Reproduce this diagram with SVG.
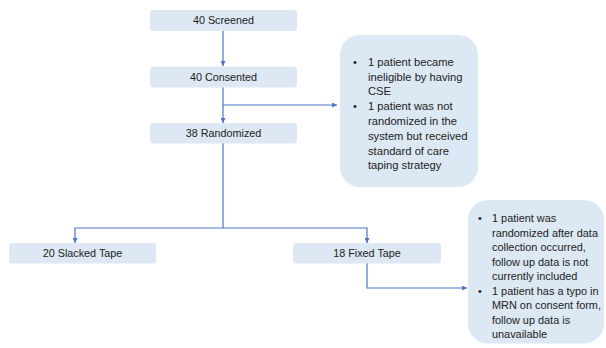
<svg xmlns="http://www.w3.org/2000/svg" width="606" height="348" viewBox="0 0 606 348">
<style>
.box{fill:#dde8f4;stroke:none}
.bub{fill:#dce8f4;stroke:none}
.bt{font-family:"Liberation Sans",Arial,sans-serif;font-size:10.8px;fill:#222;text-anchor:middle}
.tt{font-family:"Liberation Sans",Arial,sans-serif;font-size:11.2px;fill:#222}
.tt2{font-family:"Liberation Sans",Arial,sans-serif;font-size:10.9px;fill:#222}
.ln{fill:none;stroke:#4a76c6;stroke-width:1.2}
</style>
<defs>
<marker id="ah" viewBox="0 0 6 6" refX="6" refY="3" markerWidth="5" markerHeight="5" orient="auto" markerUnits="userSpaceOnUse">
<path d="M0,0 L6,3 L0,6 Z" fill="#4a76c6"/>
</marker>
</defs>
<g id="connectors">
<path class="ln" d="M223,31 V66" marker-end="url(#ah)"/>
<path class="ln" d="M223,87 V123" marker-end="url(#ah)"/>
<path class="ln" d="M223,105 H337" marker-end="url(#ah)"/>
<path class="ln" d="M223,143 V228 H75 V243" marker-end="url(#ah)"/>
<path class="ln" d="M223,228 H367 V243" marker-end="url(#ah)"/>
<path class="ln" d="M367,263 V288 H467" marker-end="url(#ah)"/>
</g>
<g id="screened"><rect class="box" x="150" y="10" width="147" height="21" rx="3"/><text class="bt" x="223.5" y="24.3">40 Screened</text></g>
<g id="consented"><rect class="box" x="150" y="66.5" width="147" height="21" rx="3"/><text class="bt" x="223.5" y="80.8">40 Consented</text></g>
<g id="randomized"><rect class="box" x="150" y="123" width="147" height="20.5" rx="3"/><text class="bt" x="223.5" y="137">38 Randomized</text></g>
<g id="slacked"><rect class="box" x="9" y="243" width="147" height="20.5" rx="3"/><text class="bt" x="82.5" y="257.2">20 Slacked Tape</text></g>
<g id="fixed"><rect class="box" x="293" y="243" width="148" height="20.5" rx="3"/><text class="bt" x="367" y="257.2">18 Fixed Tape</text></g>
<g id="note1">
<rect class="bub" x="340" y="35" width="138" height="152" rx="20"/>
<text class="tt"><tspan x="353" y="65.8">•</tspan><tspan x="368" y="65.8">1 patient became</tspan>
<tspan x="368" y="80.6">ineligible by having</tspan>
<tspan x="368" y="95.4">CSE</tspan>
<tspan x="353" y="110.2">•</tspan><tspan x="368" y="110.2">1 patient was not</tspan>
<tspan x="368" y="125">randomized in the</tspan>
<tspan x="368" y="139.8">system but received</tspan>
<tspan x="368" y="154.6">standard of care</tspan>
<tspan x="368" y="169.4">taping strategy</tspan></text>
</g>
<g id="note2">
<rect class="bub" x="468" y="200" width="136" height="143.5" rx="20"/>
<text class="tt2"><tspan x="478" y="222.4">•</tspan><tspan x="492" y="222.4">1 patient was</tspan>
<tspan x="492" y="236.9">randomized after data</tspan>
<tspan x="492" y="251.4">collection occurred,</tspan>
<tspan x="492" y="265.9">follow up data is not</tspan>
<tspan x="492" y="280.4">currently included</tspan>
<tspan x="478" y="294.9">•</tspan><tspan x="492" y="294.9">1 patient has a typo in</tspan>
<tspan x="492" y="309.4">MRN on consent form,</tspan>
<tspan x="492" y="323.9">follow up data is</tspan>
<tspan x="492" y="338.4">unavailable</tspan></text>
</g>
</svg>
